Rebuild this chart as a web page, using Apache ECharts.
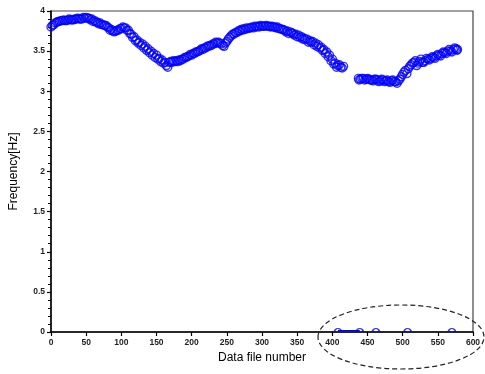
<!DOCTYPE html>
<html>
<head>
<meta charset="utf-8">
<script src="https://cdn.jsdelivr.net/npm/echarts@6/dist/echarts.min.js"></script>
<style>
html,body{margin:0;padding:0;background:#fff;}
#chart{width:485px;height:374px;}
</style>
</head>
<body>
<div id="chart"></div>
<script>
// Data file numbers and frequencies (Hz), first run
const seg1X = [0,4,8,12,16,20,24,28,32,36,40,44,48,52,56,60,64,68,72,76,80,84,88,92,96,100,104,108,112,116,120,124,128,132,136,140,144,148,152,156,160,164,168,172,176,180,184,188,192,196,200,204,208,212,216,220,224,228,232,236,240,244,248,252,256,260,264,268,272,276,280,284,288,292,296,300,304,308,312,316,320,324,328,332,336,340,344,348,352,356,360,364,368,372,376,380,384,388,392,396,400,404,408,412,416];
const seg1Y = [3.80,3.83,3.86,3.87,3.88,3.88,3.89,3.89,3.89,3.90,3.90,3.90,3.91,3.91,3.89,3.87,3.86,3.84,3.83,3.82,3.80,3.76,3.75,3.75,3.76,3.78,3.79,3.76,3.72,3.67,3.63,3.60,3.57,3.54,3.51,3.48,3.45,3.42,3.40,3.37,3.35,3.32,3.36,3.36,3.37,3.37,3.38,3.40,3.42,3.44,3.45,3.47,3.49,3.51,3.52,3.54,3.56,3.57,3.59,3.60,3.60,3.57,3.60,3.65,3.69,3.71,3.73,3.75,3.76,3.77,3.78,3.79,3.79,3.80,3.80,3.81,3.81,3.81,3.80,3.80,3.79,3.78,3.77,3.76,3.75,3.74,3.72,3.71,3.70,3.68,3.66,3.65,3.63,3.62,3.60,3.58,3.55,3.52,3.49,3.45,3.40,3.35,3.32,3.30,3.31];
// interleaved data files of the first run
const seg1bX = [2,6,10,14,18,22,26,30,34,38,42,46,50,54,58,62,66,70,74,78,82,86,90,94,98,102,106,110,114,118,122,126,130,134,138,142,146,150,154,158,162,166,170,174,178,182,186,190,194,198,202,206,210,214,218,222,226,230,234,238,242,246,250,254,258,262,266,270,274,278,282,286,290,294,298,302,306,310,314,318,322,326,330,334,338,342,346,350,354,358,362,366,370,374,378,382,386,390,394,398,402,406,410,414];
const seg1bY = [3.82,3.85,3.87,3.88,3.89,3.88,3.90,3.89,3.90,3.91,3.90,3.92,3.92,3.91,3.90,3.88,3.86,3.85,3.83,3.82,3.79,3.77,3.74,3.76,3.78,3.80,3.79,3.76,3.71,3.68,3.64,3.61,3.59,3.56,3.53,3.50,3.47,3.45,3.41,3.39,3.36,3.30,3.37,3.38,3.38,3.39,3.40,3.42,3.43,3.46,3.47,3.49,3.50,3.53,3.54,3.56,3.57,3.59,3.61,3.61,3.59,3.56,3.62,3.67,3.71,3.73,3.75,3.77,3.78,3.79,3.79,3.80,3.81,3.81,3.82,3.81,3.82,3.81,3.81,3.80,3.80,3.78,3.77,3.74,3.72,3.73,3.70,3.68,3.67,3.65,3.64,3.61,3.61,3.58,3.56,3.54,3.51,3.47,3.43,3.38,3.34,3.30,3.33,3.29];
// second run
const seg2X = [437,440,444,448,452,456,460,464,468,472,476,480,484,488,492,496,500,504,508,512,516,520,524,528,532,536,540,544,548,552,556,560,564,568,572,576,578];
const seg2Y = [3.16,3.15,3.16,3.15,3.15,3.14,3.15,3.14,3.13,3.14,3.13,3.12,3.13,3.12,3.10,3.15,3.21,3.26,3.28,3.33,3.36,3.32,3.37,3.36,3.38,3.40,3.41,3.42,3.44,3.45,3.47,3.48,3.50,3.50,3.52,3.53,3.52];
const seg2bX = [438,442,446,450,454,458,462,466,470,474,478,482,486,490,494,498,502,506,510,514,518,522,526,530,534,538,542,546,550,554,558,562,566,570,574,577];
const seg2bY = [3.14,3.16,3.14,3.16,3.14,3.13,3.15,3.12,3.15,3.12,3.14,3.11,3.14,3.12,3.13,3.18,3.24,3.22,3.31,3.35,3.38,3.35,3.40,3.36,3.41,3.39,3.43,3.41,3.46,3.44,3.49,3.47,3.52,3.49,3.54,3.51];
// failed detections (zero frequency)
const zeroX = [408,439,462,507,570];
const zeroY = [0,0,0,0,0];
const zeroLinkX = [408,439];
const zeroLinkY = [0.015,0.015];
// axes
const xTicks = {min:0, max:600, interval:50};
const yTicks = {min:0, max:4, interval:0.5};

const zip = (a,b) => a.map((v,i)=>[v,b[i]]);
const blue = '#0000ff';
const chart = echarts.init(document.getElementById('chart'), null, {renderer:'canvas'});
const labelFont = {fontFamily:'Liberation Sans, Arial, sans-serif', fontSize:8.5, fontWeight:'bold', color:'#222'};
const ringStyle = {color:'rgba(255,255,255,0)', borderColor:blue, borderWidth:1.4};
chart.setOption({
  animation:false,
  backgroundColor:'#fff',
  grid:{left:49, top:11, right:12, bottom:42, show:true, borderColor:'#444', borderWidth:1.2, backgroundColor:'transparent'},
  xAxis:{
    type:'value', min:xTicks.min, max:xTicks.max, interval:xTicks.interval,
    name:'Data file number', nameLocation:'middle', nameGap:20,
    nameTextStyle:{fontFamily:'Liberation Sans, Arial, sans-serif', fontSize:12, color:'#000'},
    axisLine:{show:true, onZero:false, lineStyle:{color:'#000', width:1.5}},
    axisTick:{show:true, inside:false, length:4, lineStyle:{color:'#000', width:1.2}},
    axisLabel:Object.assign({margin:6}, labelFont),
    splitLine:{show:false}
  },
  yAxis:{
    type:'value', min:yTicks.min, max:yTicks.max, interval:yTicks.interval,
    name:'Frequency[Hz]', nameLocation:'middle', nameGap:31,
    nameTextStyle:{fontFamily:'Liberation Sans, Arial, sans-serif', fontSize:12, color:'#000'},
    axisLine:{show:true, onZero:false, lineStyle:{color:'#000', width:1.5}},
    axisTick:{show:true, inside:false, length:4, lineStyle:{color:'#000', width:1.2}},
    minorTick:{show:true, splitNumber:5, length:3, lineStyle:{color:'#000', width:1}},
    axisLabel:Object.assign({margin:6}, labelFont),
    splitLine:{show:false}
  },
  series:[
    {type:'scatter', data:zip(seg1X,seg1Y), symbol:'circle', symbolSize:8, itemStyle:ringStyle},
    {type:'scatter', data:zip(seg1bX,seg1bY), symbol:'circle', symbolSize:8, itemStyle:ringStyle},
    {type:'scatter', data:zip(seg2X,seg2Y), symbol:'circle', symbolSize:8, itemStyle:ringStyle},
    {type:'scatter', data:zip(seg2bX,seg2bY), symbol:'circle', symbolSize:8, itemStyle:ringStyle},
    {type:'line', data:zip(zeroLinkX,zeroLinkY), symbol:'none', lineStyle:{color:blue, width:1.5}, z:3},
    {type:'scatter', data:zip(zeroX,zeroY), symbol:'path://M0,5A5,5 0 0 1 10,5', symbolSize:[7,3.5], symbolOffset:[0,'-50%'],
     itemStyle:{color:'none', borderColor:blue, borderWidth:1.3}, z:3}
  ],
  graphic:[
    {type:'ellipse', shape:{cx:401, cy:337, rx:83, ry:32}, style:{fill:'none', stroke:'#222', lineWidth:1.2, lineDash:[5,3]}, z:100}
  ]
});
</script>
</body>
</html>
